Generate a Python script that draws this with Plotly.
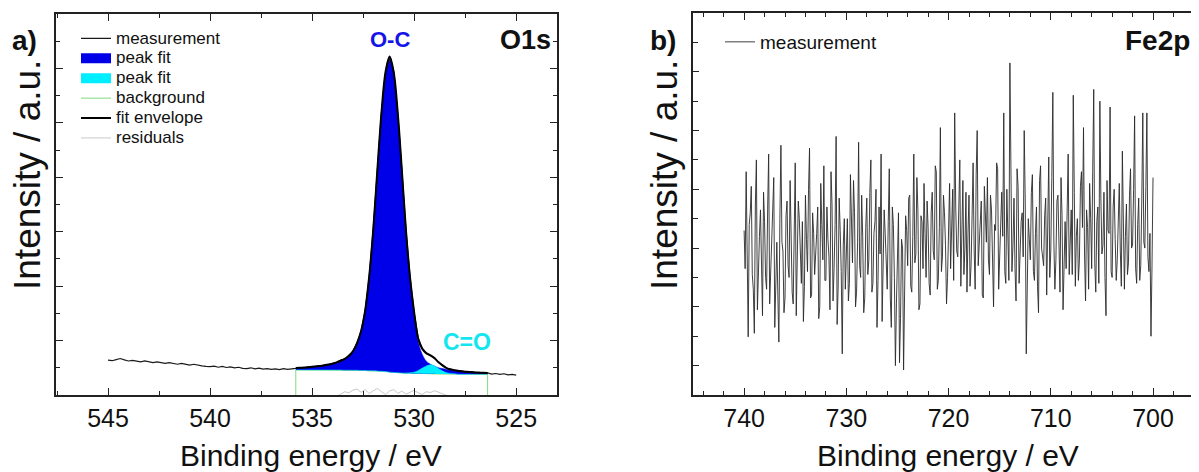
import numpy as np
import plotly.graph_objects as go

# The page adds an 8 px body margin, so the figure is laid out in reference
# pixel coordinates shifted by OFF.
OFF = 8
W, H = 1191, 464
FONT = "Arial, Liberation Sans, sans-serif"

# ---------------- O1s panel (a) ----------------
o1s_start, o1s_step = 545.0, 0.2
o1s_meas = [
    1.28, 1.26, 1.30, 1.34, 1.29, 1.25, 1.27, 1.24, 1.22, 1.25,
    1.21, 1.19, 1.22, 1.18, 1.16, 1.19, 1.15, 1.13, 1.16, 1.12,
    1.10, 1.13, 1.09, 1.07, 1.05, 1.04, 1.06, 1.02, 1.05, 1.01,
    1.03, 1.00, 1.02, 0.98, 0.97, 1.00, 0.96, 0.99, 0.95, 0.97,
    0.94, 0.96, 0.93, 0.97, 0.94, 0.95, 0.98, 1.01, 0.99, 1.03,
    1.02, 1.06, 1.05, 1.10, 1.11, 1.16, 1.19, 1.28, 1.32, 1.46,
    1.60, 1.93, 2.33, 3.12, 4.35, 6.15, 8.28, 10.40, 11.85, 12.40,
    11.88, 10.30, 8.25, 6.05, 4.32, 3.02, 2.10, 1.72, 1.55, 1.44,
    1.37, 1.19, 1.10, 0.98, 0.95, 0.89, 0.90, 0.86, 0.84, 0.86,
    0.82, 0.83, 0.80, 0.81, 0.77, 0.79, 0.76, 0.78, 0.74, 0.76,
    0.73,
]
o1s_energy = np.round(o1s_start - o1s_step * np.arange(len(o1s_meas)), 2)

fit_start, fit_step = 535.8, 0.2
fit_bg = [
    0.92, 0.92, 0.92, 0.92, 0.92, 0.92, 0.92, 0.92, 0.92, 0.92,
    0.92, 0.92, 0.91, 0.91, 0.91, 0.91, 0.90, 0.90, 0.89, 0.89,
    0.88, 0.87, 0.86, 0.84, 0.83, 0.82, 0.81, 0.80, 0.80, 0.79,
    0.79, 0.79, 0.78, 0.78, 0.78, 0.77, 0.77, 0.77, 0.77, 0.77,
    0.76, 0.76, 0.76, 0.76, 0.76, 0.76, 0.76, 0.76,
]
fit_oc = [
    0.99, 1.00, 1.01, 1.02, 1.04, 1.05, 1.07, 1.09, 1.12, 1.15,
    1.20, 1.26, 1.33, 1.43, 1.61, 1.90, 2.35, 3.10, 4.37, 6.11,
    8.30, 10.38, 11.88, 12.44, 11.85, 10.33, 8.23, 6.02, 4.28, 2.99,
    1.95, 1.49, 1.24, 1.13, 1.06, 1.00, 0.97, 0.94, 0.92, 0.90,
    0.88, 0.86, 0.85, 0.84, 0.83, 0.82, 0.82, 0.81,
]
fit_co = [
    0.92, 0.92, 0.92, 0.92, 0.92, 0.92, 0.92, 0.92, 0.92, 0.92,
    0.92, 0.92, 0.91, 0.91, 0.91, 0.91, 0.90, 0.90, 0.89, 0.89,
    0.88, 0.87, 0.86, 0.84, 0.83, 0.82, 0.81, 0.81, 0.82, 0.84,
    0.90, 0.99, 1.07, 1.11, 1.07, 0.97, 0.88, 0.82, 0.79, 0.78,
    0.76, 0.76, 0.76, 0.76, 0.76, 0.76, 0.76, 0.76,
]
fit_env = [
    0.99, 1.00, 1.01, 1.02, 1.04, 1.05, 1.07, 1.09, 1.12, 1.15,
    1.20, 1.26, 1.33, 1.43, 1.61, 1.90, 2.35, 3.10, 4.37, 6.11,
    8.30, 10.38, 11.88, 12.44, 11.85, 10.33, 8.23, 6.03, 4.30, 3.04,
    2.06, 1.69, 1.53, 1.46, 1.35, 1.20, 1.08, 0.99, 0.94, 0.91,
    0.88, 0.86, 0.85, 0.84, 0.83, 0.82, 0.82, 0.81,
]
fit_res = [
    -0.25, -0.22, -0.27, -0.24, -0.20, -0.23, -0.18, -0.21, -0.15, -0.12,
    -0.05, 0.03, 0.12, 0.08, 0.18, 0.22, 0.10, 0.20, 0.05, 0.16,
    0.24, 0.12, 0.02, 0.15, 0.20, 0.06, 0.14, 0.03, 0.10, 0.17,
    0.08, 0.02, 0.12, 0.09, 0.16, 0.10, 0.05, -0.02, -0.10, -0.15,
    -0.20, -0.18, -0.23, -0.20, -0.25, -0.22, -0.24, -0.20,
]
fit_energy = np.round(fit_start - fit_step * np.arange(len(fit_bg)), 2)

# ---------------- Fe2p panel (b) ----------------
fe_start, fe_step = 740.0, 0.1
fe_meas = [
    5.6, 4.3, 7.6, 3.2, 1.98, 5.8, 6.2, 7.1, 4.1, 3.6, 2.1, 6.5, 8.0, 2.9, 4.6, 5.4, 6.3, 4.8, 2.7, 6.9,
    5.9, 4.0, 3.6, 6.3, 8.2, 3.1, 4.4, 5.7, 6.1, 7.4, 2.3, 4.5, 5.2, 3.4, 1.8, 6.0, 8.5, 5.2, 4.9, 2.8,
    3.3, 6.1, 6.6, 4.4, 4.0, 7.3, 5.7, 3.5, 3.1, 5.0, 7.9, 2.7, 4.5, 6.6, 6.0, 4.9, 3.8, 5.9, 2.5, 3.7,
    6.8, 5.3, 4.2, 7.0, 8.4, 3.3, 3.4, 6.2, 5.5, 4.1, 4.7, 5.5, 6.4, 2.6, 3.0, 7.2, 5.8, 4.6, 7.8, 3.9,
    3.9, 6.4, 5.3, 4.7, 2.9, 7.6, 6.5, 3.2, 4.3, 5.8, 8.8, 2.4, 3.7, 6.7, 5.6, 4.2, 1.4, 5.1, 6.0, 3.6,
    4.8, 6.0, 3.2, 3.8, 7.5, 5.6, 4.5, 7.3, 6.2, 3.0, 3.5, 5.2, 8.6, 4.4, 4.0, 6.8, 5.4, 2.8, 3.3, 5.7,
    6.7, 4.1, 4.6, 6.9, 8.0, 3.5, 3.8, 5.5, 5.9, 7.0, 2.3, 3.9, 6.4, 4.8, 8.2, 2.5, 4.2, 6.3, 5.5, 4.6,
    3.6, 5.9, 7.7, 3.3, 2.3, 6.4, 5.8, 4.0, 1.0, 3.1, 4.9, 6.2, 1.1, 2.6, 5.3, 5.0, 0.85, 3.4, 6.1, 5.6,
    4.4, 6.7, 6.8, 3.7, 3.5, 5.4, 8.2, 4.5, 4.8, 7.4, 6.3, 2.9, 3.1, 6.1, 5.9, 4.3, 7.2, 5.5, 4.0, 6.6,
    5.7, 3.8, 3.4, 6.2, 6.9, 4.9, 4.6, 7.8, 7.6, 3.6, 3.9, 5.7, 9.1, 4.2, 4.7, 6.8, 6.2, 5.1, 3.1, 4.0,
    5.8, 7.2, 4.3, 5.6, 7.0, 3.9, 9.6, 6.4, 4.9, 4.7, 6.5, 8.0, 3.7, 5.3, 7.3, 4.1, 5.0, 6.9, 3.5, 5.5,
    6.8, 3.7, 4.4, 6.1, 7.9, 5.0, 3.6, 7.5, 9.0, 4.4, 5.2, 6.3, 6.6, 3.4, 3.3, 7.1, 5.9, 5.2, 7.4, 4.6,
    4.1, 6.8, 6.3, 4.0, 3.0, 5.8, 5.6, 7.9, 7.7, 3.6, 4.5, 6.0, 6.9, 5.4, 9.6, 4.2, 3.8, 7.0, 5.4, 3.9,
    11.3, 6.5, 4.2, 5.1, 6.7, 4.3, 3.2, 7.7, 7.1, 3.8, 5.0, 5.9, 6.2, 4.7, 9.0, 6.6, 1.4, 3.1, 6.0, 5.3,
    4.6, 6.9, 7.5, 4.2, 3.9, 5.5, 6.4, 3.7, 2.8, 7.3, 7.8, 5.0, 4.7, 4.4, 6.1, 6.7, 3.4, 5.8, 8.1, 4.0,
    4.9, 7.4, 10.3, 5.2, 3.6, 4.6, 6.6, 6.8, 4.2, 3.5, 7.4, 6.1, 2.9, 5.0, 5.9, 4.3, 7.0, 8.2, 4.1, 5.6,
    6.3, 4.1, 10.2, 6.9, 3.7, 5.4, 6.0, 3.9, 4.6, 7.1, 7.6, 5.7, 9.1, 4.8, 3.2, 6.3, 5.7, 3.6, 7.2, 6.0,
    4.3, 7.6, 10.4, 4.5, 3.5, 5.9, 6.4, 3.8, 10.0, 6.7, 4.8, 5.1, 6.9, 4.0, 2.7, 7.3, 5.6, 5.5, 9.8, 4.2,
    4.0, 6.4, 7.0, 5.3, 3.9, 4.6, 6.2, 7.2, 4.9, 3.7, 8.3, 6.0, 3.6, 5.4, 6.5, 4.1, 4.5, 6.8, 7.7, 5.0,
    5.1, 7.0, 9.5, 4.3, 3.8, 5.8, 6.7, 3.9, 4.4, 6.6, 9.6, 5.2, 5.0, 7.1, 9.6, 4.7, 4.2, 5.5, 2.0, 4.4,
    7.4,
]
fe_energy = np.round(fe_start - fe_step * np.arange(len(fe_meas)), 2)

# ---------------- colours ----------------
BLUE = "#0000e8"
CYAN = "#00eeff"
GREEN = "#7fdc7f"
AX = "#222222"


def lg(name):
    # legend font size sets the row pitch; the span sets the visible text size
    return f"<span style='font-size:17px'>{name}</span>"


fig = go.Figure()

fig.add_trace(go.Scatter(x=fit_energy, y=fit_res, mode="lines", name=lg("residuals"),
                         line=dict(color="#c8c8c8", width=1), legendrank=6,
                         xaxis="x", yaxis="y"))
bg_x = np.concatenate([[fit_energy[0]], fit_energy, [fit_energy[-1]]])
bg_y = np.concatenate([[-1.0], fit_bg, [-1.0]])
fig.add_trace(go.Scatter(x=bg_x, y=bg_y, mode="lines", name=lg("background"),
                         line=dict(color=GREEN, width=1), legendrank=4,
                         xaxis="x", yaxis="y"))
fig.add_trace(go.Scatter(x=fit_energy, y=fit_bg, mode="lines", showlegend=False,
                         line=dict(color="rgba(0,0,0,0)", width=0, shape="spline"),
                         hoverinfo="skip", xaxis="x", yaxis="y"))
fig.add_trace(go.Scatter(x=fit_energy, y=fit_oc, mode="lines", showlegend=False,
                         fill="tonexty", fillcolor=BLUE,
                         line=dict(color=BLUE, width=0.5, shape="spline"),
                         xaxis="x", yaxis="y"))
fig.add_trace(go.Scatter(x=fit_energy, y=fit_bg, mode="lines", showlegend=False,
                         line=dict(color="rgba(0,0,0,0)", width=0, shape="spline"),
                         hoverinfo="skip", xaxis="x", yaxis="y"))
fig.add_trace(go.Scatter(x=fit_energy, y=fit_co, mode="lines", showlegend=False,
                         fill="tonexty", fillcolor=CYAN,
                         line=dict(color=CYAN, width=0.5, shape="spline"),
                         xaxis="x", yaxis="y"))
# legend swatches for the two peak components
fig.add_trace(go.Scatter(x=[None], y=[None], mode="lines", name=lg("peak fit"),
                         line=dict(color=BLUE, width=10), legendrank=2,
                         xaxis="x", yaxis="y"))
fig.add_trace(go.Scatter(x=[None], y=[None], mode="lines", name=lg("peak fit"),
                         line=dict(color=CYAN, width=10), legendrank=3,
                         xaxis="x", yaxis="y"))
fig.add_trace(go.Scatter(x=o1s_energy, y=o1s_meas, mode="lines", name=lg("measurement"),
                         line=dict(color="#1a1a1a", width=1.2), legendrank=1,
                         xaxis="x", yaxis="y"))
fig.add_trace(go.Scatter(x=fit_energy, y=fit_env, mode="lines", name=lg("fit envelope"),
                         line=dict(color="#000000", width=2, shape="spline"),
                         legendrank=5, xaxis="x", yaxis="y"))

fig.add_trace(go.Scatter(x=fe_energy, y=fe_meas, mode="lines", name="measurement",
                         line=dict(color="#2a2a2a", width=0.9),
                         legend="legend2", xaxis="x2", yaxis="y2"))


def PX(x):
    return (x - OFF) / W


def PY(y):
    return 1 - (y - OFF) / H


tickfont = dict(family=FONT, size=25, color="#111111")
common = dict(showline=True, linecolor=AX, linewidth=1.5, mirror="allticks",
              ticks="inside", tickcolor=AX, tickwidth=1.2, showgrid=False,
              zeroline=False)

fig.update_layout(
    width=W, height=H,
    margin=dict(l=0, r=0, t=0, b=0),
    paper_bgcolor="white", plot_bgcolor="white",
    font=dict(family=FONT, color="#111111"),
    xaxis=dict(domain=[PX(56), PX(557)], range=[547.55, 523.0], tick0=545, dtick=5,
               ticklen=7, minor=dict(dtick=2.5, ticklen=4, ticks="inside", tickcolor=AX),
               tickfont=tickfont, ticklabelstandoff=0, anchor="y", **common),
    yaxis=dict(domain=[PY(395), PY(14)], range=[0, 14], tick0=0, dtick=2,
               ticklen=7, showticklabels=False,
               minor=dict(dtick=1, ticklen=4, ticks="inside", tickcolor=AX),
               anchor="x", **common),
    xaxis2=dict(domain=[PX(693), PX(1198)], range=[745.0, 695.6], tick0=700, dtick=10,
                ticklen=7, minor=dict(dtick=2, ticklen=4, ticks="inside", tickcolor=AX),
                tickfont=tickfont, ticklabelstandoff=0, anchor="y2", **common),
    yaxis2=dict(domain=[PY(395), PY(13)], range=[0, 13], tick0=1, dtick=2,
                ticklen=6, showticklabels=False,
                minor=dict(dtick=1, ticklen=5, ticks="inside", tickcolor=AX),
                anchor="x2", **common),
    legend=dict(x=PX(76), y=PY(23.5), xanchor="left", yanchor="top",
                traceorder="normal", bgcolor="rgba(0,0,0,0)",
                font=dict(family=FONT, size=13, color="#111"),
                tracegroupgap=0, itemwidth=30),
    legend2=dict(x=PX(720), y=PY(23), xanchor="left", yanchor="top",
                 traceorder="normal", bgcolor="rgba(0,0,0,0)",
                 font=dict(family=FONT, size=19, color="#111"), itemwidth=30),
    showlegend=True,
)

ann = []


def paper_text(text, px, py, size, color="#111111", bold=False, angle=0):
    ann.append(dict(text=f"<b>{text}</b>" if bold else text, x=PX(px), y=PY(py),
                    xref="paper", yref="paper", showarrow=False, textangle=angle,
                    xanchor="center", yanchor="middle",
                    font=dict(family=FONT, size=size, color=color)))


paper_text("a)", 24, 40, 28, bold=True)
paper_text("b)", 663, 40, 28, bold=True)
paper_text("O1s", 525, 40, 27, bold=True)
paper_text("Fe2p", 1157, 41, 28, bold=True)
paper_text("Binding energy / eV", 311, 455, 30)
paper_text("Binding energy / eV", 948, 455, 30)
paper_text("Intensity / a.u.", 27, 175, 37, angle=-90)
paper_text("Intensity / a.u.", 664, 175, 37, angle=-90)

ann.append(dict(text="<b>O-C</b>", x=531.2, y=13.05, xref="x", yref="y", showarrow=False,
                font=dict(family=FONT, size=22, color="#1414e6")))
ann.append(dict(text="<b>C=O</b>", x=527.4, y=1.95, xref="x", yref="y", showarrow=False,
                font=dict(family=FONT, size=23, color="#14e6f0")))
fig.update_layout(annotations=ann)

fig.write_html("out.html")
